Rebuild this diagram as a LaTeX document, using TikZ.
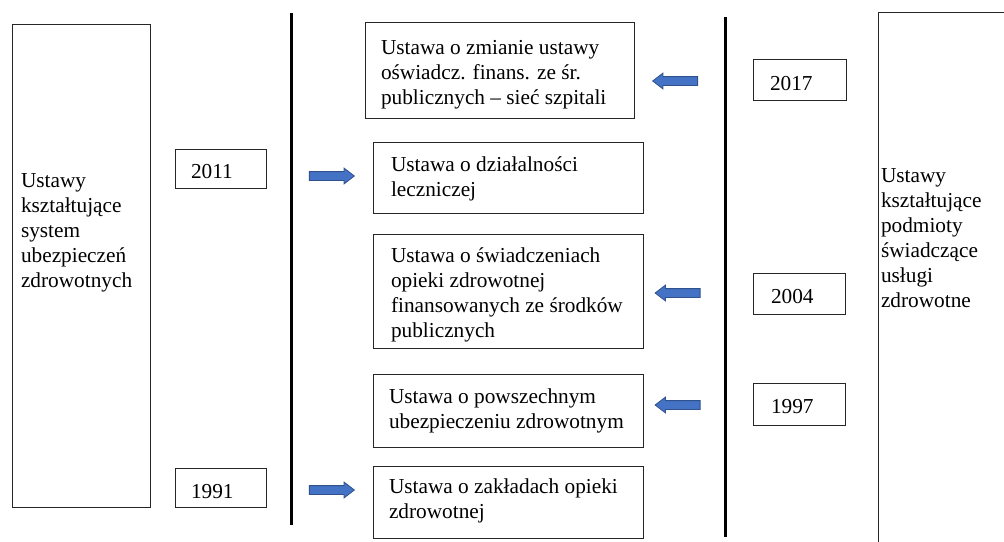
\documentclass[tikz,border=0pt]{standalone}
\usepackage{fontspec}
\setmainfont{Liberation Serif}
\usetikzlibrary{shapes.arrows}
\definecolor{arrowfill}{HTML}{4472C4}
\definecolor{arrowline}{HTML}{2F528F}
\newcommand\firstline{\rule{0pt}{16pt}}
\tikzset{
  box/.style={draw=black!85, line width=0.8pt, inner sep=0pt, outer sep=0pt, anchor=north west},
  txt/.style={inner sep=0pt, outer sep=0pt, anchor=north west, align=left,
              font=\fontsize{21.3}{25}\selectfont},
  blockarrow/.style={single arrow, draw=arrowline, fill=arrowfill, line width=0.8pt,
              minimum height=45pt, minimum width=15pt, single arrow head extend=3.5pt,
              single arrow tip angle=75, inner xsep=0pt, inner ysep=4pt},
  pointleft/.style={shape border rotate=180},
  divider/.style={line width=3pt, black}
}
\begin{document}
\begin{tikzpicture}[x=1pt, y=-1pt]
\useasboundingbox (0,0) rectangle (1004,541);
\clip (0,0) rectangle (1004,541);

% outer category boxes
\node[box, minimum width=138pt, minimum height=483pt] (sysbox) at (12,24) {};
\node[txt] (systxt) at (21,171) {\firstline Ustawy\\kształtujące\\system\\ubezpieczeń\\zdrowotnych};

\node[box, minimum width=160pt, minimum height=560pt] (provbox) at (878,12) {};
\node[txt] (provtxt) at (881,166) {\firstline Ustawy\\kształtujące\\podmioty\\świadczące\\usługi\\zdrowotne};

% timeline dividers
\coordinate (dl1) at (291,13);
\coordinate (dl2) at (291,525);
\coordinate (dr1) at (725,17);
\coordinate (dr2) at (725,537);
\draw[divider] (dl1) -- (dl2);
\draw[divider] (dr1) -- (dr2);

% year boxes, left side
\node[box, minimum width=91pt, minimum height=39pt] (y2011) at (175,149) {};
\node[txt] (t2011) at (191,162) {\firstline 2011};
\node[box, minimum width=91pt, minimum height=39pt] (y1991) at (175,468) {};
\node[txt] (t1991) at (191,482) {\firstline 1991};

% year boxes, right side
\node[box, minimum width=93pt, minimum height=41pt] (y2017) at (753,59) {};
\node[txt] (t2017) at (770,74) {\firstline 2017};
\node[box, minimum width=92pt, minimum height=41pt] (y2004) at (753,273) {};
\node[txt] (t2004) at (771,287) {\firstline 2004};
\node[box, minimum width=92pt, minimum height=42pt] (y1997) at (753,383) {};
\node[txt] (t1997) at (771,397) {\firstline 1997};

% acts
\node[box, minimum width=269pt, minimum height=96pt] (act1) at (365,22) {};
\node[txt] (tact1) at (381,38) {\firstline Ustawa o zmianie ustawy\\oświadcz. finans. ze śr.\\publicznych – sieć szpitali};

\node[box, minimum width=270pt, minimum height=71pt] (act2) at (373,142) {};
\node[txt] (tact2) at (391,155) {\firstline Ustawa o działalności\\leczniczej};

\node[box, minimum width=270pt, minimum height=114pt] (act3) at (373,234) {};
\node[txt] (tact3) at (391,246) {\firstline Ustawa o świadczeniach\\opieki zdrowotnej\\finansowanych ze środków\\publicznych};

\node[box, minimum width=270pt, minimum height=73pt] (act4) at (373,374) {};
\node[txt] (tact4) at (389,387) {\firstline Ustawa o powszechnym\\ubezpieczeniu zdrowotnym};

\node[box, minimum width=270pt, minimum height=72pt] (act5) at (373,466) {};
\node[txt] (tact5) at (389,477) {\firstline Ustawa o zakładach opieki\\zdrowotnej};

% block arrows
\node[blockarrow] (a2011) at (329,176) {};
\node[blockarrow] (a1991) at (329,490) {};
\node[blockarrow, pointleft] (a2017) at (678,81) {};
\node[blockarrow, pointleft] (a2004) at (680.5,293) {};
\node[blockarrow, pointleft] (a1997) at (680.5,405) {};
\end{tikzpicture}
\end{document}
